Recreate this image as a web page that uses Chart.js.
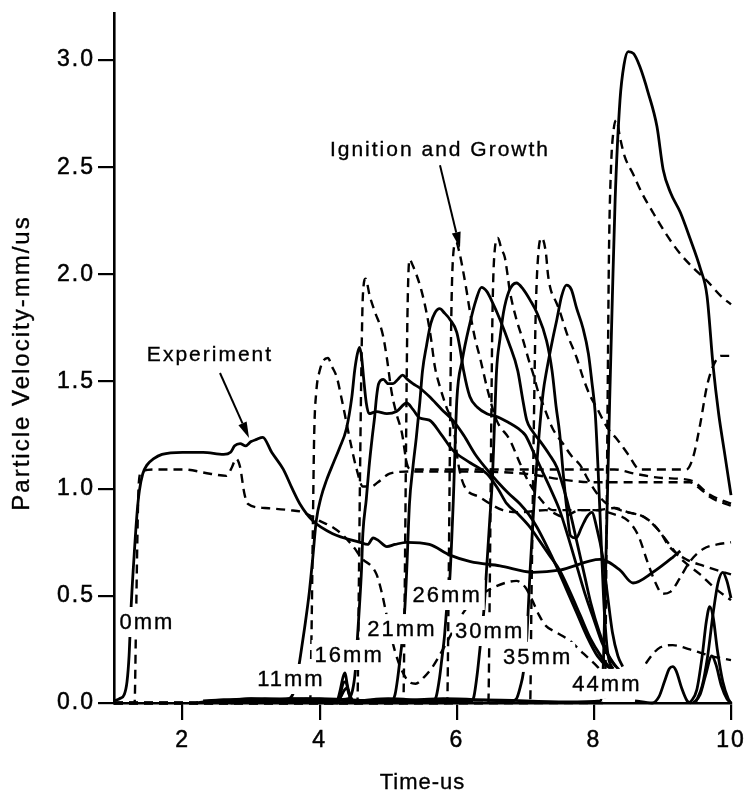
<!DOCTYPE html>
<html>
<head>
<meta charset="utf-8">
<script src="https://cdn.jsdelivr.net/npm/chart.js@4.4.1/dist/chart.umd.min.js"></script>
<style>
  html, body { margin: 0; padding: 0; background: #fff; }
</style>
</head>
<body>
<canvas id="myChart" width="750" height="801"></canvas>
<script>
// Gauge records: [time us, particle velocity mm/us]
// solid = experiment, dashed = ignition and growth model
const exp0mm = [[1.0,0.01],[1.08,0.02],[1.15,0.04],[1.19,0.1],[1.22,0.22],[1.25,0.45],[1.3,0.72],[1.34,0.9],[1.37,0.99],[1.42,1.07],[1.48,1.11],[1.58,1.14],[1.7,1.16],[2.0,1.17],[2.3,1.17],[2.6,1.16],[2.7,1.17],[2.76,1.2],[2.84,1.21],[2.92,1.2],[3.0,1.22],[3.08,1.23],[3.17,1.24],[3.3,1.17],[3.47,1.09],[3.6,1.0],[3.71,0.93],[3.9,0.85],[4.19,0.79],[4.59,0.75],[4.7,0.74],[4.78,0.77],[4.85,0.76],[4.98,0.73],[5.1,0.74],[5.27,0.75],[5.6,0.74],[5.9,0.69],[6.2,0.66],[6.63,0.64],[7.11,0.61],[7.5,0.62],[8.09,0.67],[8.38,0.62],[8.57,0.56],[8.86,0.61],[9.15,0.68],[9.26,0.71]];
const exp11mm = [[2.2,0.0],[2.6,0.015],[3.0,0.005],[3.4,0.015],[3.55,0.02],[3.62,0.05],[3.68,0.14],[3.72,0.22],[3.78,0.35],[3.85,0.52],[3.9,0.68],[3.95,0.85],[4.02,0.96],[4.1,1.04],[4.2,1.12],[4.29,1.19],[4.39,1.28],[4.47,1.43],[4.51,1.55],[4.55,1.63],[4.58,1.66],[4.61,1.62],[4.64,1.52],[4.68,1.4],[4.72,1.35],[4.83,1.36],[4.98,1.35],[5.12,1.36],[5.27,1.4],[5.36,1.37],[5.46,1.33],[5.6,1.32],[5.78,1.25],[5.94,1.18],[6.2,1.12],[6.44,1.07],[6.6,1.0],[6.73,0.93],[6.9,0.88],[7.07,0.82],[7.2,0.76],[7.35,0.69],[7.5,0.62],[7.65,0.52],[7.8,0.41],[7.95,0.3],[8.1,0.22],[8.25,0.16],[8.32,0.15]];
const exp16mm = [[2.4,0.0],[3.0,0.02],[3.6,0.005],[4.2,0.015],[4.42,0.02],[4.48,0.06],[4.52,0.15],[4.55,0.3],[4.58,0.45],[4.61,0.62],[4.63,0.79],[4.68,0.95],[4.72,1.1],[4.77,1.25],[4.8,1.33],[4.83,1.43],[4.86,1.49],[4.93,1.51],[5.0,1.49],[5.07,1.49],[5.14,1.51],[5.21,1.53],[5.28,1.51],[5.36,1.49],[5.46,1.47],[5.6,1.43],[5.78,1.37],[5.94,1.32],[6.1,1.25],[6.27,1.16],[6.44,1.09],[6.6,1.03],[6.75,0.98],[6.92,0.93],[7.05,0.88],[7.17,0.82],[7.3,0.74],[7.45,0.64],[7.6,0.53],[7.75,0.42],[7.9,0.31],[8.05,0.22],[8.2,0.17],[8.28,0.16]];
const exp21mm = [[2.3,0.01],[3.2,0.02],[4.0,0.005],[4.25,0.01],[4.3,0.06],[4.34,0.12],[4.37,0.14],[4.4,0.09],[4.44,0.03],[4.5,0.01],[4.8,0.015],[5.05,0.01],[5.1,0.04],[5.14,0.12],[5.17,0.2],[5.2,0.28],[5.24,0.43],[5.27,0.62],[5.31,0.93],[5.36,1.1],[5.41,1.24],[5.46,1.4],[5.5,1.55],[5.56,1.67],[5.62,1.77],[5.68,1.82],[5.75,1.84],[5.82,1.82],[5.9,1.79],[6.0,1.73],[6.05,1.65],[6.1,1.55],[6.19,1.43],[6.3,1.38],[6.44,1.35],[6.55,1.34],[6.63,1.33],[6.75,1.31],[6.9,1.28],[7.0,1.25],[7.12,1.17],[7.25,1.08],[7.38,0.99],[7.5,0.9],[7.62,0.78],[7.75,0.64],[7.88,0.5],[8.0,0.39],[8.12,0.28],[8.25,0.2],[8.38,0.15]];
const exp26mm = [[2.5,0.005],[3.4,0.015],[4.2,0.0],[4.3,0.04],[4.34,0.09],[4.38,0.1],[4.42,0.05],[4.48,0.01],[5.0,0.02],[5.65,0.01],[5.7,0.03],[5.75,0.12],[5.78,0.2],[5.82,0.31],[5.85,0.43],[5.9,0.59],[5.95,0.95],[6.0,1.41],[6.08,1.6],[6.19,1.77],[6.28,1.88],[6.36,1.94],[6.44,1.92],[6.52,1.87],[6.63,1.79],[6.76,1.68],[6.89,1.55],[6.96,1.42],[7.02,1.32],[7.1,1.27],[7.22,1.22],[7.35,1.16],[7.46,1.1],[7.56,1.0],[7.66,0.88],[7.76,0.74],[7.86,0.6],[7.96,0.46],[8.08,0.33],[8.2,0.23],[8.32,0.17]];
const exp30mm = [[2.6,0.01],[3.6,0.02],[4.26,0.0],[4.31,0.03],[4.36,0.06],[4.4,0.07],[4.45,0.03],[4.52,0.0],[5.3,0.015],[6.2,0.005],[6.25,0.03],[6.3,0.14],[6.34,0.26],[6.4,0.45],[6.44,0.65],[6.48,0.85],[6.52,1.05],[6.55,1.3],[6.58,1.55],[6.63,1.7],[6.68,1.82],[6.76,1.92],[6.87,1.96],[6.97,1.93],[7.07,1.88],[7.17,1.82],[7.31,1.69],[7.39,1.55],[7.45,1.38],[7.5,1.26],[7.55,1.08],[7.6,0.92],[7.66,0.78],[7.74,0.77],[7.82,0.82],[7.9,0.87],[7.97,0.89],[8.04,0.82],[8.13,0.68],[8.2,0.5],[8.27,0.33],[8.35,0.22],[8.42,0.17]];
const exp35mm = [[2.7,0.0],[3.8,0.02],[4.8,0.005],[5.8,0.02],[6.8,0.01],[6.87,0.02],[6.93,0.08],[6.97,0.14],[7.02,0.3],[7.07,0.62],[7.13,0.95],[7.2,1.25],[7.26,1.45],[7.31,1.55],[7.4,1.7],[7.46,1.79],[7.53,1.9],[7.6,1.95],[7.67,1.93],[7.75,1.84],[7.84,1.75],[7.92,1.63],[7.97,1.5],[8.02,1.35],[8.06,1.1],[8.1,0.8],[8.14,0.5],[8.18,0.3],[8.22,0.2],[8.28,0.16]];
const exp44mm = [[2.8,0.01],[4.0,0.02],[5.2,0.005],[6.4,0.015],[7.6,0.005],[8.1,0.01],[8.14,0.2],[8.17,0.6],[8.2,1.0],[8.23,1.41],[8.27,1.9],[8.31,2.35],[8.38,2.81],[8.44,2.98],[8.5,3.04],[8.58,3.03],[8.67,2.97],[8.79,2.85],[8.92,2.69],[9.01,2.49],[9.12,2.38],[9.26,2.29],[9.4,2.17],[9.55,2.03],[9.65,1.9],[9.74,1.57],[9.82,1.35],[9.9,1.18],[10,0.97]];
// late arrivals near the end of the records
const expLateA = [[8.6,0.01],[8.85,0.0],[8.95,0.03],[9.03,0.1],[9.1,0.16],[9.15,0.17],[9.2,0.15],[9.28,0.07],[9.36,0.01],[9.42,0.0]];
const expLateB = [[9.4,0.0],[9.5,0.06],[9.58,0.22],[9.64,0.38],[9.69,0.45],[9.74,0.4],[9.8,0.25],[9.88,0.1],[9.96,0.02],[10,0.0]];
const expLateC = [[9.45,0.0],[9.55,0.04],[9.63,0.13],[9.72,0.22],[9.78,0.18],[9.86,0.08],[9.94,0.02],[10,0.0]];
const expLateD = [[9.48,0.0],[9.58,0.08],[9.66,0.22],[9.74,0.42],[9.81,0.56],[9.88,0.61],[9.94,0.57],[10,0.49]];

const mod0mm = [[1.0,0],[1.3,0],[1.32,0.35],[1.34,0.75],[1.36,1.02],[1.4,1.08],[1.6,1.09],[2.0,1.09],[2.4,1.07],[2.64,1.06],[2.72,1.1],[2.78,1.14],[2.84,1.1],[2.9,0.98],[2.95,0.93],[3.2,0.91],[3.56,0.9],[3.76,0.89],[4.0,0.85],[4.19,0.82],[4.35,0.78],[4.49,0.73],[4.63,0.67],[4.75,0.64],[4.83,0.6],[4.91,0.51],[4.97,0.42],[5.03,0.33],[5.1,0.24],[5.2,0.15],[5.3,0.1],[5.4,0.09],[5.52,0.12],[5.65,0.17],[5.78,0.24],[5.9,0.31],[6.05,0.4],[6.25,0.48],[6.48,0.53],[6.7,0.56],[6.87,0.57],[7.0,0.54],[7.1,0.48],[7.2,0.41],[7.3,0.36],[7.45,0.33],[7.65,0.29],[7.85,0.23],[8.05,0.17],[8.2,0.12],[8.4,0.08],[8.6,0.09],[8.77,0.19],[8.97,0.26],[9.15,0.27],[9.4,0.25],[9.7,0.22],[10,0.2]];
const mod11mm = [[1.0,0],[3.86,0],[3.88,0.3],[3.9,0.8],[3.92,1.25],[3.95,1.45],[4.0,1.55],[4.06,1.6],[4.12,1.61],[4.18,1.57],[4.25,1.52],[4.32,1.42],[4.39,1.31],[4.46,1.2],[4.54,1.09],[4.63,1.01],[4.75,1.01],[4.85,1.03],[5.02,1.07],[5.3,1.08],[6.0,1.08],[7.0,1.07],[7.6,1.04],[8.0,1.03],[8.5,1.03],[9.0,1.03],[9.4,1.03],[9.55,1.0],[9.7,0.96],[10,0.92]];
const mod16mm = [[1.0,0],[4.55,0],[4.57,0.5],[4.59,1.1],[4.61,1.6],[4.63,1.9],[4.67,1.98],[4.73,1.9],[4.8,1.83],[4.92,1.72],[4.98,1.61],[5.05,1.45],[5.12,1.35],[5.2,1.26],[5.27,1.12],[5.32,1.09],[6.0,1.09],[7.0,1.09],[8.0,1.09],[8.3,1.09],[8.6,1.07],[9.0,1.05],[9.4,1.04],[9.7,0.97],[10,0.93]];
const mod21mm = [[1.0,0],[5.22,0],[5.24,0.5],[5.26,1.2],[5.28,1.8],[5.31,2.07],[5.36,2.04],[5.41,2.0],[5.48,1.93],[5.56,1.82],[5.62,1.71],[5.68,1.57],[5.75,1.48],[5.85,1.38],[5.95,1.29],[6.02,1.12],[6.1,1.02],[6.34,0.96],[6.67,0.9],[6.92,0.89],[7.3,0.9],[7.55,0.87],[7.8,0.9],[8.04,0.9],[8.3,0.91],[8.5,0.89],[8.72,0.87],[8.96,0.8],[9.1,0.73],[9.35,0.67],[9.6,0.64],[10,0.6]];
const mod26mm = [[1.0,0],[5.86,0],[5.88,0.5],[5.9,1.2],[5.92,1.8],[5.95,2.1],[5.99,2.15],[6.04,2.1],[6.09,2.02],[6.14,1.93],[6.19,1.83],[6.26,1.71],[6.34,1.61],[6.45,1.46],[6.58,1.32],[6.77,1.23],[6.92,1.12],[7.05,1.03],[7.2,0.96],[7.4,0.9],[7.7,0.9],[8.0,0.9],[8.3,0.88],[8.5,0.85],[8.65,0.78],[8.78,0.66],[8.9,0.56],[9.0,0.51],[9.12,0.52],[9.25,0.58],[9.4,0.66],[9.6,0.72],[9.8,0.74],[10,0.75]];
const mod30mm = [[1.0,0],[6.46,0],[6.48,0.5],[6.5,1.2],[6.52,1.8],[6.55,2.1],[6.6,2.17],[6.65,2.12],[6.7,2.08],[6.74,2.0],[6.77,1.93],[6.87,1.79],[6.97,1.69],[7.05,1.6],[7.12,1.53],[7.18,1.46],[7.25,1.4],[7.4,1.28],[7.55,1.21],[7.68,1.15],[7.8,1.11],[7.92,1.04],[8.04,0.98],[8.15,0.94],[8.3,0.91],[8.5,0.89],[8.72,0.87],[8.85,0.84],[8.96,0.8],[9.1,0.74],[9.25,0.68],[9.35,0.65],[9.55,0.6],[9.75,0.54],[10,0.48]];
const mod35mm = [[1.0,0],[7.07,0],[7.09,0.5],[7.12,1.2],[7.15,1.8],[7.19,2.1],[7.24,2.17],[7.3,2.1],[7.33,2.0],[7.37,1.93],[7.45,1.87],[7.5,1.83],[7.6,1.73],[7.75,1.61],[7.84,1.52],[7.95,1.43],[8.04,1.38],[8.15,1.31],[8.23,1.27],[8.34,1.23],[8.5,1.16],[8.67,1.09],[9.0,1.09],[9.35,1.09],[9.45,1.15],[9.55,1.3],[9.65,1.48],[9.75,1.58],[9.85,1.62],[10,1.62]];
const mod44mm = [[1.0,0],[8.16,0],[8.18,0.6],[8.2,1.4],[8.22,2.1],[8.25,2.5],[8.29,2.68],[8.33,2.72],[8.38,2.64],[8.45,2.55],[8.57,2.47],[8.7,2.38],[8.86,2.29],[9.05,2.19],[9.25,2.1],[9.45,2.03],[9.65,1.97],[9.85,1.9],[10,1.86]];

const xTicks = [2, 4, 6, 8, 10];
const yTicks = [0, 0.5, 1.0, 1.5, 2.0, 2.5, 3.0];

// gauge depth labels and where they sit (time, velocity)
const gaugeNames = ['0mm', '11mm', '16mm', '21mm', '26mm', '30mm', '35mm', '44mm'];
const gaugeLabelT = [1.48, 3.58, 4.43, 5.2, 5.86, 6.48, 7.18, 8.19];
const gaugeLabelV = [0.378, 0.112, 0.224, 0.345, 0.504, 0.336, 0.215, 0.089];

const FONT = "'Liberation Sans', Arial, Helvetica, sans-serif";
const INK = '#000';
const SPACING = '2px';

const toPts = a => a.map(p => ({ x: p[0], y: p[1] }));
const solid = a => ({ data: toPts(a), borderColor: INK, borderWidth: 2.8, pointRadius: 0,
  cubicInterpolationMode: 'monotone', fill: false, clip: 6 });
const dashed = a => Object.assign(solid(a), { borderWidth: 2.4, borderDash: [9, 6] });

const datasets = [
  exp0mm, exp11mm, exp16mm, exp21mm, exp26mm, exp30mm, exp35mm, exp44mm,
  expLateA, expLateB, expLateC, expLateD
].map(solid).concat(
  [mod0mm, mod11mm, mod16mm, mod21mm, mod26mm, mod30mm, mod35mm, mod44mm].map(dashed)
);

// letter spacing for every bit of text on the canvas
const spacing = {
  id: 'spacing',
  beforeUpdate(chart) { chart.ctx.letterSpacing = SPACING; },
  beforeDraw(chart) { chart.ctx.letterSpacing = SPACING; }
};

// filled text with a thin outline so it reads as heavy as the axis lines
function inkText(ctx, str, x, y) {
  ctx.fillText(str, x, y);
  ctx.lineWidth = 0.35;
  ctx.strokeText(str, x, y);
}

function arrow(ctx, x0, y0, x1, y1) {
  const a = Math.atan2(y1 - y0, x1 - x0), L = 16, W = 4.5;
  ctx.beginPath();
  ctx.moveTo(x0, y0);
  ctx.lineTo(x1 - L * Math.cos(a), y1 - L * Math.sin(a));
  ctx.lineWidth = 2;
  ctx.stroke();
  ctx.beginPath();
  ctx.moveTo(x1, y1);
  ctx.lineTo(x1 - L * Math.cos(a) + W * Math.sin(a), y1 - L * Math.sin(a) - W * Math.cos(a));
  ctx.lineTo(x1 - L * Math.cos(a) - W * Math.sin(a), y1 - L * Math.sin(a) + W * Math.cos(a));
  ctx.closePath();
  ctx.fill();
}

const notes = {
  id: 'notes',
  afterDatasetsDraw(chart) {
    const { ctx, chartArea, scales: { x, y } } = chart;
    ctx.save();
    ctx.letterSpacing = SPACING;
    ctx.textAlign = 'center';
    ctx.textBaseline = 'middle';
    ctx.strokeStyle = INK;

    ctx.font = '22px ' + FONT;
    gaugeNames.forEach((name, i) => {
      const px = x.getPixelForValue(gaugeLabelT[i]);
      const py = y.getPixelForValue(gaugeLabelV[i]);
      const w = ctx.measureText(name).width;
      ctx.fillStyle = '#fff';
      ctx.fillRect(px - w / 2 - 3, py - 15, w + 6, 30);
      ctx.fillStyle = INK;
      inkText(ctx, name, px, py + 1);
    });

    ctx.font = '21px ' + FONT;
    inkText(ctx, 'Experiment', x.getPixelForValue(2.4), y.getPixelForValue(1.624));
    arrow(ctx, x.getPixelForValue(2.546), y.getPixelForValue(1.54),
               x.getPixelForValue(2.97), y.getPixelForValue(1.237));
    inkText(ctx, 'Ignition and Growth', x.getPixelForValue(5.755), y.getPixelForValue(2.58));
    arrow(ctx, x.getPixelForValue(5.755), y.getPixelForValue(2.51),
               x.getPixelForValue(6.047), y.getPixelForValue(2.123));

    // axis titles
    ctx.letterSpacing = '1px';
    ctx.font = '22px ' + FONT;
    inkText(ctx, 'Time-us', (chartArea.left + chartArea.right) / 2, 783);
    ctx.letterSpacing = SPACING;
    ctx.translate(22, (chartArea.top + chartArea.bottom) / 2 + 5);
    ctx.rotate(-Math.PI / 2);
    ctx.font = '24px ' + FONT;
    inkText(ctx, 'Particle Velocity-mm/us', 0, 0);
    ctx.restore();
  }
};

const tickFont = { family: FONT, size: 23 };

const ctx = document.getElementById('myChart').getContext('2d');
const myChart = new Chart(ctx, {
  type: 'line',
  data: { datasets },
  options: {
    responsive: false,
    animation: false,
    events: [],
    layout: { padding: { top: 13, right: 19, left: 0, bottom: 0 } },
    plugins: { legend: { display: false }, tooltip: { enabled: false } },
    scales: {
      x: {
        type: 'linear', min: 1, max: 10,
        afterBuildTicks: s => { s.ticks = xTicks.map(v => ({ value: v })); },
        afterFit: s => { s.height = 98; s.paddingLeft = 0; s.paddingRight = 0; },
        grid: { drawOnChartArea: false, drawTicks: true, tickLength: 17, color: INK, lineWidth: 2.2 },
        border: { display: true, color: INK, width: 2.6 },
        ticks: { color: INK, font: tickFont, padding: 7, maxRotation: 0, autoSkip: false,
          textStrokeColor: INK, textStrokeWidth: 0.5 },
        title: { display: false }
      },
      y: {
        type: 'linear', min: 0, max: 3.22,
        afterBuildTicks: s => { s.ticks = yTicks.map(v => ({ value: v })); },
        afterFit: s => { s.width = 114; s.paddingTop = 0; s.paddingBottom = 0; },
        grid: { drawOnChartArea: false, drawTicks: true, tickLength: 16, color: INK, lineWidth: 2.2 },
        border: { display: true, color: INK, width: 2.6 },
        ticks: { color: INK, font: tickFont, padding: 3,
          textStrokeColor: INK, textStrokeWidth: 0.5,
          callback: v => Number(v).toFixed(1) },
        title: { display: false }
      }
    }
  },
  plugins: [spacing, notes]
});
</script>
</body>
</html>
